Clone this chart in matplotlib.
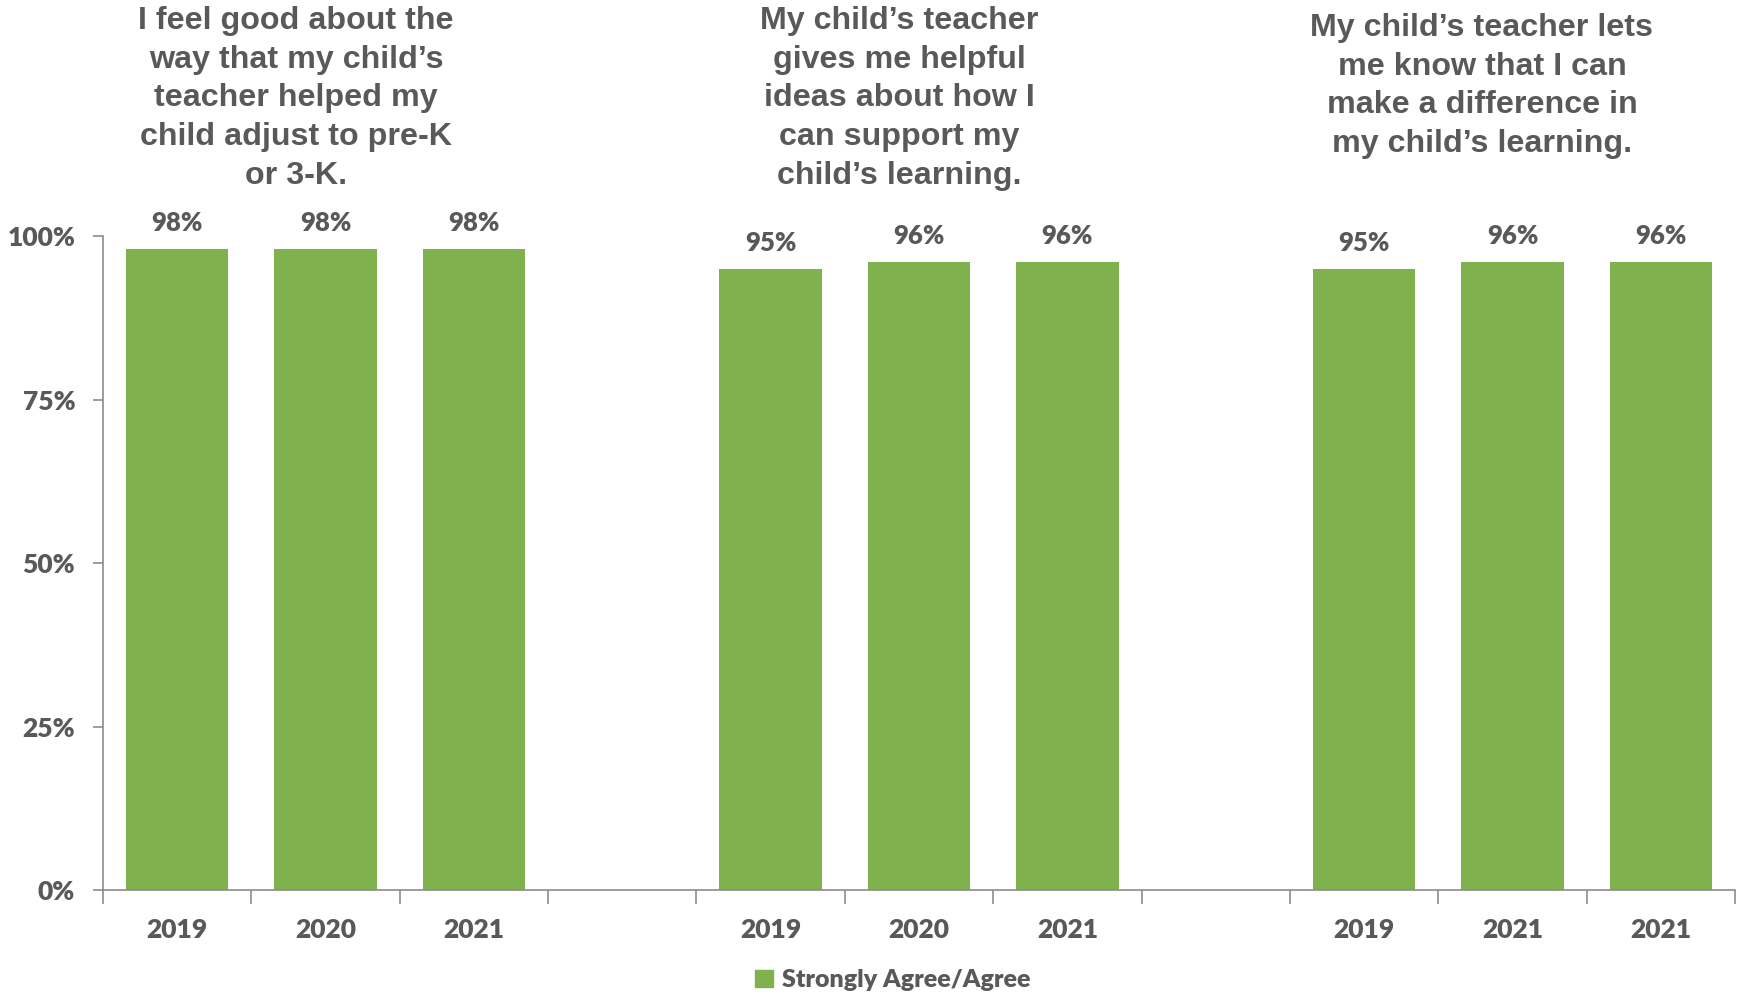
import numpy as np
import matplotlib.pyplot as plt
from matplotlib.patches import Patch

# Survey results, three questions x three years
questions = [
    "I feel good about the\nway that my child\u2019s\nteacher helped my\nchild adjust to pre-K\nor 3-K.",
    "My child\u2019s teacher\ngives me helpful\nideas about how I\ncan support my\nchild\u2019s learning.",
    "My child\u2019s teacher lets\nme know that I can\nmake a difference in\nmy child\u2019s learning.",
]
year_labels = [["2019", "2020", "2021"],
               ["2019", "2020", "2021"],
               ["2019", "2021", "2021"]]
values = [[98, 98, 98],
          [95, 96, 96],
          [95, 96, 96]]
series_name = "Strongly Agree/Agree"

green = "#7FB24F"
gray = "#595959"
axis_gray = "#8C8C8C"
lbl_font = "Lato"
title_font = "Liberation Sans"

fig = plt.figure(figsize=(17.38, 9.96), dpi=100)
ax = fig.add_axes([103 / 1738, 1 - 890 / 996, (1735 - 103) / 1738, (890 - 236) / 996])

# each group takes 3 slots, with one empty slot between groups
xs, labels, vals = [], [], []
for g in range(len(values)):
    for i in range(3):
        xs.append(g * 4 + i)
        labels.append(year_labels[g][i])
        vals.append(values[g][i])

bars = ax.bar(xs, vals, width=0.69, color=green, zorder=2)
for b, v in zip(bars, vals):
    ax.annotate(f"{v}%", (b.get_x() + b.get_width() / 2, v), xytext=(0, 10),
                textcoords="offset points", ha="center", va="bottom",
                fontsize=18.5, fontweight="heavy", color=gray, family=lbl_font,
                annotation_clip=False)

n_slots = 4 * len(values) - 1
ax.set_xlim(-0.5, n_slots - 0.5)
ax.set_ylim(0, 100)

ax.set_xticks(xs)
ax.set_xticklabels(labels)
ax.set_xticks(np.arange(-0.5, n_slots, 1.0), minor=True)
ax.tick_params(axis="x", which="major", length=0, pad=20)
ax.tick_params(axis="x", which="minor", length=10, width=1.2, color=axis_gray, direction="out")

ax.set_yticks([0, 25, 50, 75, 100])
ax.set_yticklabels([f"{t}%" for t in [0, 25, 50, 75, 100]])
ax.tick_params(axis="y", length=7, width=1.2, color=axis_gray, direction="out", pad=13)

for lab in ax.get_xticklabels() + ax.get_yticklabels():
    lab.set_fontsize(19)
    lab.set_fontweight("heavy")
    lab.set_color(gray)
    lab.set_family(lbl_font)

for s in ["top", "right"]:
    ax.spines[s].set_visible(False)
for s in ["left", "bottom"]:
    ax.spines[s].set_color(axis_gray)
    ax.spines[s].set_linewidth(1.2)

# question titles above each group
title_pos = [(296, 6), (899, 6), (1482, 13)]
for q, (tx, ty) in zip(questions, title_pos):
    fig.text(tx / 1738, 1 - ty / 996, q, ha="center", va="top", fontsize=23.2,
             fontweight="bold", color=gray, family=title_font, linespacing=1.38)

fig.legend(handles=[Patch(color=green, label=series_name)], loc="center",
           bbox_to_anchor=(893 / 1738, 1 - 980 / 996), frameon=False,
           handlelength=0.7, handleheight=0.7, handletextpad=0.4,
           prop={"family": lbl_font, "weight": "heavy", "size": 18},
           labelcolor=gray)

fig.savefig("out.png", dpi=100)
